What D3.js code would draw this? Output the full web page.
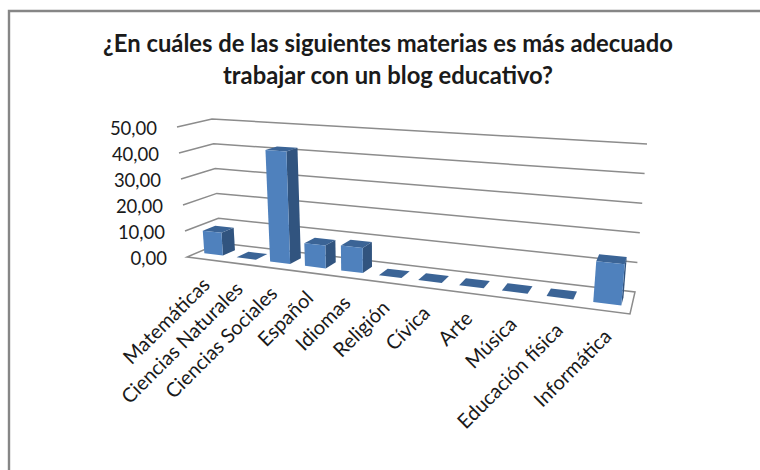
<!DOCTYPE html>
<html><head><meta charset="utf-8">
<script src="https://cdn.jsdelivr.net/npm/d3@7/dist/d3.min.js"></script>
<style>html,body{margin:0;padding:0;background:#fff}svg{display:block}text{font-family:Lato,"Open Sans",sans-serif;fill:#1a1a1a}</style>
</head><body><svg id="c" width="760" height="470"></svg>
<script>
const titleLines = ["¿En cuáles de las siguientes materias es más adecuado","trabajar con un blog educativo?"];
const categories = ["Matemáticas","Ciencias Naturales","Ciencias Sociales","Español","Idiomas","Religión","Cívica","Arte","Música","Educación física","Informática"];
const values = [8.8,0,42,8.4,9.1,0,0,0,0,0,13.3];
const ticks = [0,10,20,30,40,50];
const tickLabels = ["0,00","10,00","20,00","30,00","40,00","50,00"];
// projected corners of the chart box: front-left, front-right, back-right, back-left
const floorCorners = [[187,257],[630,314],[635,292],[220,243]];
const ceilCorners = [[177,127],[644,155],[647,144],[212,119]];

function homography(q){
  const [[x0,y0],[x1,y1],[x2,y2],[x3,y3]] = q;
  const dx1=x1-x2,dx2=x3-x2,dx3=x0-x1+x2-x3,dy1=y1-y2,dy2=y3-y2,dy3=y0-y1+y2-y3;
  const det=dx1*dy2-dx2*dy1;
  const g=(dx3*dy2-dx2*dy3)/det,h=(dx1*dy3-dx3*dy1)/det;
  const a=x1-x0+g*x1,b=x3-x0+h*x3,c=x0,d=y1-y0+g*y1,e=y3-y0+h*y3,f=y0;
  return (u,v)=>{const w=g*u+h*v+1;return [(a*u+b*v+c)/w,(d*u+e*v+f)/w];};
}
const floorH=homography(floorCorners);
const sub=(a,b)=>[a[0]-b[0],a[1]-b[1]];
const rise=floorCorners.map((p,i)=>sub(ceilCorners[i],p));
const xBand=d3.scaleBand().domain(categories).range([0,1]).paddingInner(0.42).paddingOuter(0.21);
const zBand=d3.scaleBand().domain(["serie"]).range([0,1]).padding(0.45);
const yT=d3.scaleLinear().domain([0,50]).range([0,1]);
const lerp=d3.interpolateArray;
function project(u,v,val){
  const p=floorH(u,v);
  const xl=d3.interpolateNumber(floorCorners[0][0],floorCorners[3][0])(v);
  const xr=d3.interpolateNumber(floorCorners[1][0],floorCorners[2][0])(v);
  const s=(p[0]-xl)/(xr-xl);
  const r=lerp(lerp(rise[0],rise[1])(s),lerp(rise[3],rise[2])(s))(v);
  const t=yT(val);
  return [p[0]+r[0]*t,p[1]+r[1]*t];
}
const line=d3.line();
const svg=d3.select("#c");

svg.append("path").attr("d",line([[9,470],[9,11],[760,11]])).attr("fill","none").attr("stroke","#868686").attr("stroke-width",2.4);

svg.selectAll("text.title").data(titleLines).join("text").attr("class","title")
  .attr("x",388).attr("y",(d,i)=>52+i*32).attr("text-anchor","middle")
  .attr("font-size",23.8).attr("font-weight",700).text(d=>d);

// floor
svg.append("path").attr("d",line([[0,0],[1,0],[1,1],[0,1]].map(([u,v])=>project(u,v,0)))+"Z")
  .attr("fill","#fff").attr("stroke","#8c8c8c").attr("stroke-width",1.5);
// gridlines
ticks.slice(1).forEach(t=>{
  svg.append("path").attr("d",line([[0,0],[0,1],[1,1]].map(([u,v])=>project(u,v,t))))
    .attr("fill","none").attr("stroke","#8c8c8c").attr("stroke-width",1.5);
});
// tick labels
svg.selectAll("text.tick").data(ticks).join("text").attr("class","tick")
  .attr("x",d=>project(0,0,d)[0]-20).attr("y",d=>project(0,0,d)[1]+8)
  .attr("text-anchor","end").attr("font-size",18.5).text((d,i)=>tickLabels[i]);

// bars
const z0=zBand("serie"), z1=z0+zBand.bandwidth();
categories.forEach((c,i)=>{
  const u0=xBand(c),u1=u0+xBand.bandwidth(),v=values[i];
  const g=svg.append("g");
  const face=(pts,fill)=>g.append("path").attr("d",line(pts)+"Z").attr("fill",fill);
  if(v>0){
    face([project(u1,z0,0),project(u1,z1,0),project(u1,z1,v),project(u1,z0,v)],"#31547f");
  }
  face([project(u0,z0,v),project(u1,z0,v),project(u1,z1,v),project(u0,z1,v)],"#3b6496");
  if(v>0){
    face([project(u0,z0,0),project(u1,z0,0),project(u1,z0,v),project(u0,z0,v)],"#4f81bd");
  }
});
// category labels
svg.selectAll("text.cat").data(categories).join("text").attr("class","cat")
  .attr("text-anchor","end").attr("font-size",20)
  .attr("transform",d=>{const p=project(xBand(d)+xBand.bandwidth()/2,0,0);return `translate(${p[0]+8},${p[1]+27}) rotate(-45)`;})
  .text(d=>d);
</script></body></html>
